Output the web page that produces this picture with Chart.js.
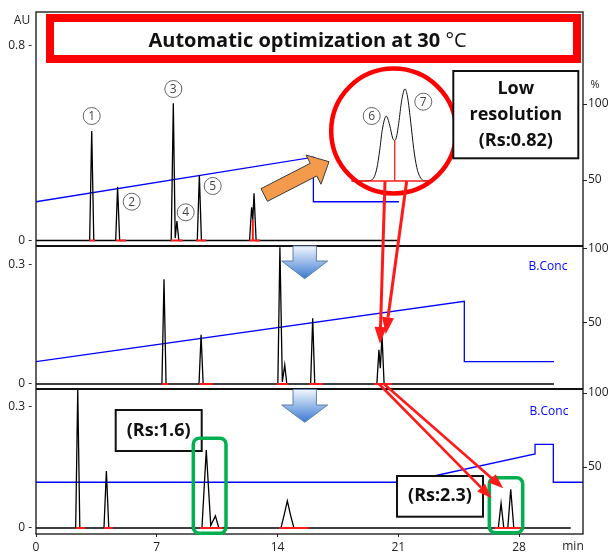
<!DOCTYPE html>
<html>
<head>
<meta charset="utf-8">
<script src="https://cdn.jsdelivr.net/npm/chart.js@4.4.1/dist/chart.umd.min.js"></script>
<style>
  html, body { margin: 0; padding: 0; background: #fff; }
  #wrap { width: 613px; height: 556px; }
</style>
</head>
<body>
<div id="wrap"><canvas id="c" width="613" height="556"></canvas></div>
<script>
// ---- data (time in min, absorbance in AU, B.Conc in %) ----
const run1Time = [0, 3.11, 3.23, 3.35, 4.62, 4.73, 4.85, 7.84, 7.96, 8.07, 8.17, 8.28, 9.35, 9.47, 9.59, 12.38, 12.50, 12.57, 12.64, 12.76, 21.0];
const run1AU   = [0, 0, 0.450, 0, 0, 0.221, 0, 0, 0.564, 0.010, 0.080, 0, 0, 0.269, 0, 0, 0.137, 0.085, 0.194, 0, 0];
const run2Time = [0, 7.30, 7.42, 7.54, 9.45, 9.57, 9.69, 14.02, 14.14, 14.28, 14.42, 14.54, 15.92, 16.04, 16.16, 19.76, 19.88, 19.96, 20.06, 20.18, 30.03];
const run2AU   = [0, 0, 0.264, 0, 0, 0.124, 0, 0, 0.345, 0.005, 0.048, 0, 0, 0.166, 0, 0, 0.086, 0.040, 0.122, 0, 0];
const run3Time = [0, 2.30, 2.42, 2.54, 3.94, 4.08, 4.22, 9.62, 9.87, 10.13, 10.40, 10.60, 14.20, 14.40, 14.57, 14.74, 14.95, 26.80, 26.96, 27.12, 27.35, 27.52, 27.70, 31.0];
const run3AU   = [0, 0, 0.342, 0, 0, 0.141, 0, 0, 0.193, 0.006, 0.030, 0, 0, 0.035, 0.067, 0.035, 0, 0, 0.061, 0, 0, 0.096, 0, 0];

// integration marks (start, end) and drop lines (time, height)
const run1Marks = [[3.09, 3.42], [4.64, 5.22], [7.81, 8.50], [9.28, 9.86], [12.37, 12.99]];
const run1Drops = [[12.57, 0.085]];
const run2Marks = [[7.29, 7.67], [9.45, 10.24], [13.95, 14.63], [15.85, 16.64], [19.60, 20.62]];
const run3Marks = [[2.32, 2.84], [3.94, 4.45], [9.51, 10.82], [14.10, 15.79], [26.60, 28.25]];

// gradient program (B.Conc %)
const bconc1Time = [0, 16.08, 16.08, 21.04];
const bconc1Pct  = [35.7, 65.0, 35.7, 35.7];
const bconc2Time = [0, 24.83, 24.83, 30.03];
const bconc2Pct  = [23.9, 64.7, 23.9, 23.9];
const bconc3Time = [0, 21.4, 28.93, 28.93, 29.99, 29.99, 31.71];
const bconc3Pct  = [39.7, 39.7, 58.8, 65.3, 65.3, 39.7, 39.7];

// magnified view of peaks 6 and 7 (run 1)
const insetTime = [12.24, 12.33, 12.38, 12.41, 12.43, 12.45, 12.47, 12.50, 12.525, 12.548, 12.563, 12.578, 12.593, 12.615, 12.64, 12.66, 12.683, 12.705, 12.728, 12.75, 12.78, 12.85];
const insetAU   = [0, 0, 0.001, 0.009, 0.028, 0.064, 0.109, 0.138, 0.119, 0.091, 0.086, 0.096, 0.123, 0.171, 0.196, 0.177, 0.125, 0.069, 0.029, 0.010, 0.001, 0];
const insetMarks = [[12.24, 12.85]];
const insetDrops = [[12.563, 0.086]];

const xTicks = [0, 7, 14, 21, 28];
const auTicksTop = [0, 0.8];
const auTicksLow = [0, 0.3];
const pctTicks = [50, 100];

// ---- helpers ----
const pts = (xs, ys) => xs.map((x, i) => ({ x, y: ys[i] }));
const markPts = m => m.flatMap(([a, b]) => [{ x: a, y: 0 }, { x: b, y: 0 }, { x: b, y: null }]);
const dropPts = d => d.flatMap(([t, v]) => [{ x: t, y: 0 }, { x: t, y: v }, { x: t, y: null }]);

const FONT = '"Open Sans"';
const BLUE = '#0000ff';
const RED = '#ff1a1a';

function leftAxis(min, max, ticks, weight, sw) {
  return {
    type: 'linear', position: 'left', stack: 'L', stackWeight: sw, weight, min, max,
    afterBuildTicks: s => { s.ticks = ticks.map(v => ({ value: v })); },
    afterFit: s => { s.width = 36; },
    grid: { display: false, drawTicks: false }, border: { display: false },
    ticks: { font: { family: FONT, size: 12 }, color: '#222', padding: 4, callback: v => v + ' -' }
  };
}
function rightAxis(min, max, weight, sw) {
  return {
    type: 'linear', position: 'right', stack: 'R', stackWeight: sw, weight, min, max,
    afterBuildTicks: s => { s.ticks = pctTicks.map(v => ({ value: v })); },
    afterFit: s => { s.width = 30; },
    grid: { drawOnChartArea: false, drawTicks: true, tickLength: 4, color: '#222' }, border: { display: false },
    ticks: { font: { family: FONT, size: 12 }, color: '#222', padding: 1, callback: v => String(v) }
  };
}

function line(data, y, color, width, order, extra) {
  return Object.assign({ data, yAxisID: y, xAxisID: 'x', borderColor: color, borderWidth: width,
    pointRadius: 0, tension: 0, spanGaps: false, fill: false, order }, extra || {});
}

// inset mapping (magnification of the run-1 pair into the red circle)
const inset = { t0: 12.50, px0: 386.3, pxPerMin: 133.6, basePx: 181, pxPerAU: 470 };
const area = { left: 36, right: 583, top: 12, bottom: 534 };
const xInsetMin = inset.t0 - (inset.px0 - area.left) / inset.pxPerMin;
const xInsetMax = xInsetMin + (area.right - area.left) / inset.pxPerMin;

// ---- annotations ----
function circled(ctx, x, y, n) {
  ctx.beginPath(); ctx.arc(x, y, 8.5, 0, Math.PI * 2);
  ctx.strokeStyle = '#555'; ctx.lineWidth = 0.9; ctx.stroke();
  ctx.fillStyle = '#444'; ctx.font = '12px ' + FONT; ctx.textAlign = 'center'; ctx.textBaseline = 'middle';
  ctx.fillText(String(n), x, y + 0.5);
}
function textBox(ctx, x1, y1, x2, y2, lines, size, lh) {
  ctx.fillStyle = '#fff'; ctx.fillRect(x1, y1, x2 - x1, y2 - y1);
  ctx.strokeStyle = '#111'; ctx.lineWidth = 2; ctx.strokeRect(x1, y1, x2 - x1, y2 - y1);
  ctx.fillStyle = '#111'; ctx.font = 'bold ' + size + 'px ' + FONT;
  ctx.textAlign = 'center'; ctx.textBaseline = 'middle';
  const cy = (y1 + y2) / 2 - (lines.length - 1) * lh / 2;
  lines.forEach((t, i) => ctx.fillText(t, (x1 + x2) / 2, cy + i * lh));
}
function roundBox(ctx, x1, y1, x2, y2, r, color, lw) {
  ctx.beginPath(); ctx.roundRect(x1, y1, x2 - x1, y2 - y1, r);
  ctx.strokeStyle = color; ctx.lineWidth = lw; ctx.stroke();
}
function arrow(ctx, x1, y1, x2, y2, color, lw, hl, hw) {
  const a = Math.atan2(y2 - y1, x2 - x1);
  const bx = x2 - hl * Math.cos(a), by = y2 - hl * Math.sin(a);
  ctx.strokeStyle = color; ctx.lineWidth = lw; ctx.lineCap = 'butt';
  ctx.beginPath(); ctx.moveTo(x1, y1); ctx.lineTo(bx, by); ctx.stroke();
  ctx.fillStyle = color; ctx.beginPath(); ctx.moveTo(x2, y2);
  ctx.lineTo(bx + hw * Math.sin(a), by - hw * Math.cos(a));
  ctx.lineTo(bx - hw * Math.sin(a), by + hw * Math.cos(a));
  ctx.closePath(); ctx.fill();
}
function blockArrowDown(ctx, cx, top, baseY, tipY) {
  const g = ctx.createLinearGradient(0, top, 0, tipY);
  g.addColorStop(0, '#f2f6fd'); g.addColorStop(1, '#3a7bd2');
  ctx.beginPath();
  ctx.moveTo(cx - 11.7, top); ctx.lineTo(cx + 11.7, top); ctx.lineTo(cx + 11.7, baseY);
  ctx.lineTo(cx + 23, baseY); ctx.lineTo(cx, tipY); ctx.lineTo(cx - 23, baseY);
  ctx.lineTo(cx - 11.7, baseY); ctx.closePath();
  ctx.fillStyle = g; ctx.fill(); ctx.strokeStyle = '#5f7fae'; ctx.lineWidth = 1; ctx.stroke();
}
function blockArrow(ctx, tx, ty, px, py, sw, hw, hl, fill) {
  const L = Math.hypot(px - tx, py - ty), ux = (px - tx) / L, uy = (py - ty) / L, nx = -uy, ny = ux;
  const bx = px - ux * hl, by = py - uy * hl;
  const P = [[tx - nx * sw, ty - ny * sw], [bx - nx * sw, by - ny * sw], [bx - nx * hw, by - ny * hw], [px, py],
             [bx + nx * hw, by + ny * hw], [bx + nx * sw, by + ny * sw], [tx + nx * sw, ty + ny * sw]];
  ctx.beginPath(); P.forEach(([x, y], i) => i ? ctx.lineTo(x, y) : ctx.moveTo(x, y)); ctx.closePath();
  ctx.fillStyle = fill; ctx.fill(); ctx.strokeStyle = '#3a3a3a'; ctx.lineWidth = 1; ctx.stroke();
}

const overlay = {
  id: 'overlay',
  afterDatasetsDraw(chart) {
    const ctx = chart.ctx, a = chart.chartArea, s = chart.scales;
    ctx.save();
    // frame and panel separators
    ctx.strokeStyle = '#111'; ctx.lineWidth = 1.3;
    ctx.strokeRect(a.left, a.top, a.right - a.left, a.bottom - a.top);
    ctx.lineWidth = 2;
    [s.yTop.bottom - 1, s.yMid.bottom - 1].forEach(y => {
      ctx.beginPath(); ctx.moveTo(a.left, y); ctx.lineTo(a.right, y); ctx.stroke();
    });

    // axis captions
    ctx.fillStyle = '#222'; ctx.font = '12px ' + FONT; ctx.textAlign = 'center'; ctx.textBaseline = 'middle';
    ctx.fillText('AU', 22, 21);
    ctx.font = '11px ' + FONT; ctx.fillText('%', 595, 85);
    ctx.font = '12px ' + FONT; ctx.fillText('min', 573, 547);
    ctx.fillStyle = BLUE; ctx.font = '12px ' + FONT;
    ctx.fillText('B.Conc', 548, 267);
    ctx.fillText('B.Conc', 549, 412);

    // title
    ctx.strokeStyle = '#ff0000'; ctx.lineWidth = 8;
    ctx.strokeRect(50, 18, 527, 41);
    const tb = 'Automatic optimization at 30 ', tr = '\u00b0C';
    ctx.font = 'bold 20px ' + FONT; const wb = ctx.measureText(tb).width;
    ctx.font = '20px ' + FONT; const wr = ctx.measureText(tr).width;
    const x0 = 307.5 - (wb + wr) / 2;
    ctx.textAlign = 'left'; ctx.textBaseline = 'alphabetic'; ctx.fillStyle = '#111';
    ctx.font = 'bold 20px ' + FONT; ctx.fillText(tb, x0, 47);
    ctx.font = '20px ' + FONT; ctx.fillText(tr, x0 + wb, 47);

    // peak numbers
    circled(ctx, 91.7, 116, 1); circled(ctx, 131.7, 201.7, 2); circled(ctx, 173.3, 89, 3);
    circled(ctx, 185.7, 212.3, 4); circled(ctx, 212.7, 186, 5);
    circled(ctx, 371.7, 116, 6); circled(ctx, 423.3, 101.7, 7);

    // inset circle
    ctx.strokeStyle = '#ff0000'; ctx.lineWidth = 4.5;
    ctx.beginPath(); ctx.arc(393.7, 131, 62.5, 0, Math.PI * 2); ctx.stroke();

    // orange arrow
    blockArrow(ctx, 264.2, 195, 329, 161.7, 7.1, 16.4, 17.4, '#f49a4c');

    // boxes
    textBox(ctx, 453.3, 71, 578.3, 158.3, ['Low', 'resolution', '(Rs:0.82)'], 18, 26);
    textBox(ctx, 115.7, 410, 201.7, 451, ['(Rs:1.6)'], 18, 0);
    textBox(ctx, 397, 476, 483, 516.7, ['(Rs:2.3)'], 18, 0);
    roundBox(ctx, 193.3, 438.3, 226, 533.3, 6, '#00b050', 3.5);
    roundBox(ctx, 489.3, 477.7, 522.7, 532.7, 6, '#00b050', 3.5);

    // blue step arrows
    blockArrowDown(ctx, 304.7, 246, 261, 278.7);
    blockArrowDown(ctx, 304.7, 389.5, 405, 422.3);

    // red arrows
    arrow(ctx, 385, 181, 380, 344, RED, 3, 17, 6);
    arrow(ctx, 406.7, 181, 385.7, 334.3, RED, 3, 17, 6);
    arrow(ctx, 379, 384, 491.7, 498.3, RED, 2.6, 15, 5.5);
    arrow(ctx, 384, 384, 503.3, 488.3, RED, 2.6, 15, 5.5);
    ctx.restore();
  }
};

new Chart(document.getElementById('c'), {
  type: 'line',
  data: {
    datasets: [
      line(markPts(run1Marks).concat(dropPts(run1Drops)), 'yTop', RED, 2, 1),
      line(markPts(run2Marks), 'yMid', RED, 2, 1),
      line(markPts(run3Marks), 'yBot', RED, 2, 1),
      line(pts(run1Time, run1AU), 'yTop', '#000', 1.3, 2),
      line(pts(run2Time, run2AU), 'yMid', '#000', 1.3, 2),
      line(pts(run3Time, run3AU), 'yBot', '#000', 1.3, 2),
      line(pts(bconc1Time, bconc1Pct), 'rTop', BLUE, 1.3, 3),
      line(pts(bconc2Time, bconc2Pct), 'rMid', BLUE, 1.3, 3),
      line(pts(bconc3Time, bconc3Pct), 'rBot', BLUE, 1.3, 3),
      line(markPts(insetMarks).concat(dropPts(insetDrops)), 'yInset', RED, 1.3, 1, { xAxisID: 'xInset' }),
      line(pts(insetTime, insetAU), 'yInset', '#111', 1, 2, { xAxisID: 'xInset', cubicInterpolationMode: 'monotone' })
    ]
  },
  options: {
    responsive: false,
    animation: false,
    events: [],
    layout: { padding: { top: 12, left: 0, right: 0, bottom: 0 } },
    plugins: { legend: { display: false }, tooltip: { enabled: false } },
    scales: {
      x: {
        type: 'linear', position: 'bottom', min: 0, max: 31.71,
        afterBuildTicks: s => { s.ticks = xTicks.map(v => ({ value: v })); },
        afterFit: s => { s.height = 22; },
        grid: { drawOnChartArea: false, drawTicks: true, tickLength: 3, color: '#222' }, border: { display: false },
        ticks: { font: { family: FONT, size: 12 }, color: '#222', padding: 3, maxRotation: 0 }
      },
      yTop: leftAxis(-0.0267, 0.9398, auTicksTop, 3, 235),
      yMid: leftAxis(-0.0151, 0.3454, auTicksLow, 2, 143),
      yBot: leftAxis(-0.0149, 0.3421, auTicksLow, 1, 144),
      rTop: rightAxis(5.92, 160.53, 1, 235),
      rMid: rightAxis(4.73, 101.35, 2, 143),
      rBot: rightAxis(4.73, 102.03, 3, 144),
      xInset: { type: 'linear', display: false, min: xInsetMin, max: xInsetMax },
      yInset: {
        type: 'linear', position: 'left', display: false, weight: -1,
        min: -(area.bottom - inset.basePx) / inset.pxPerAU, max: (inset.basePx - area.top) / inset.pxPerAU
      }
    }
  },
  plugins: [overlay]
});
</script>
</body>
</html>
